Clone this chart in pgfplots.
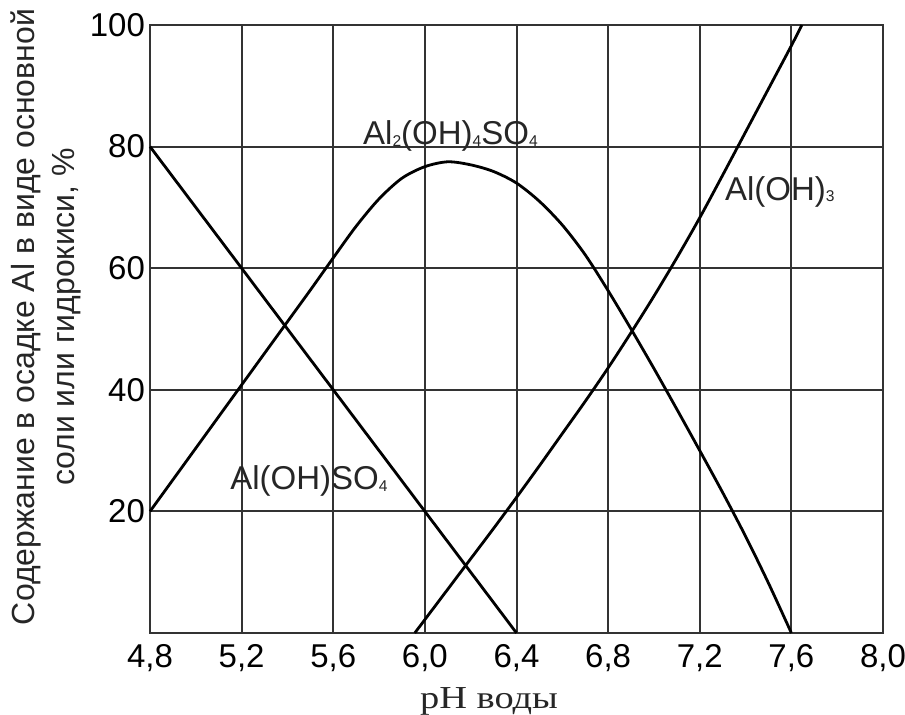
\documentclass[border=0pt]{standalone}
\usepackage{fontspec}
\setmainfont{Liberation Sans}
\newfontfamily\seriffont[FakeStretch=1.2]{Liberation Serif}
\usepackage{pgfplots}
\pgfplotsset{compat=1.18}

% small lowered index for chemical formulas
\newcommand{\ix}[1]{\raisebox{-0.9pt}{\fontsize{7.8}{8}\selectfont #1}}
\tikzset{curve label/.style={anchor=base west, inner sep=0pt,
    font=\fontsize{16.5}{17}\selectfont, text=black!85}}

\begin{document}
\begin{tikzpicture}
\path[use as bounding box] (-75pt,-41pt) rectangle (377.5pt,316.5pt);
\begin{axis}[
  at={(0,0)}, anchor=south west,
  scale only axis, width=366.5pt, height=304pt,
  xmin=4.8, xmax=8.0, ymin=0, ymax=100,
  xtick={4.8,5.2,5.6,6.0,6.4,6.8,7.2,7.6,8.0},
  ytick={20,40,60,80,100},
  grid=major,
  grid style={line width=1pt, draw=black!80},
  axis line style={line width=1pt, draw=black!80},
  major tick length=0pt,
  /pgf/number format/assume math mode=true,
  ticklabel style={font=\fontsize{16.5}{17}\selectfont},
  xticklabel style={/pgf/number format/fixed, /pgf/number format/fixed zerofill,
    /pgf/number format/precision=1, /pgf/number format/use comma, yshift=-2pt},
  yticklabel style={xshift=1pt},
  every axis plot/.append style={line width=1.4pt, black},
  clip=false,
]
% Al(OH)SO4
\addplot[sharp plot] coordinates {(4.8,80) (6.4,0)};
% Al2(OH)4SO4
\addplot[smooth, tension=0.5] coordinates {
  (4.8,20) (5.0,30.4) (5.2,40.8) (5.4,51.2) (5.5,56.4) (5.6,61.7)
  (5.7,66.9) (5.8,71.4) (5.9,74.8) (6.0,76.7) (6.1,77.5)
  (6.2,77.0) (6.3,75.9) (6.4,74.0) (6.5,71.0) (6.6,67.1) (6.7,62.2)
  (6.8,56.3) (6.9,50.0) (7.0,43.5) (7.1,36.8) (7.2,30.0) (7.3,23.1)
  (7.4,15.9) (7.5,8.2) (7.6,0)
};
% Al(OH)3
\addplot[smooth, tension=0.5] coordinates {
  (5.956,0) (6.0,2.2) (6.1,7.2) (6.2,12.2) (6.3,17.2) (6.4,22.3)
  (6.5,27.5) (6.6,32.8) (6.7,38.1) (6.8,43.6) (6.9,49.4) (7.0,55.4)
  (7.1,61.7) (7.2,68.3) (7.3,75.3) (7.4,82.4) (7.5,89.5) (7.6,96.6)
  (7.646,100)
};
\node[curve label] at (axis cs:5.729,80.3) {Al\ix{2}(OH)\ix{4}SO\ix{4}};
\node[curve label] at (axis cs:7.309,71.2) {Al(OH)\ix{3}};
\node[curve label] at (axis cs:5.149,23.6) {Al(OH)SO\ix{4}};
\end{axis}
\node[rotate=90, align=center, font=\fontsize{16}{20}\selectfont, text=black!85] at (-52pt,158pt)
  {Содержание в осадке Al в виде основной\\соли или гидрокиси, \%};
\node[anchor=base, font=\seriffont\fontsize{16}{16}\selectfont, text=black!85] at (169.5pt,-37.9pt) {pH воды};
\end{tikzpicture}
\end{document}
